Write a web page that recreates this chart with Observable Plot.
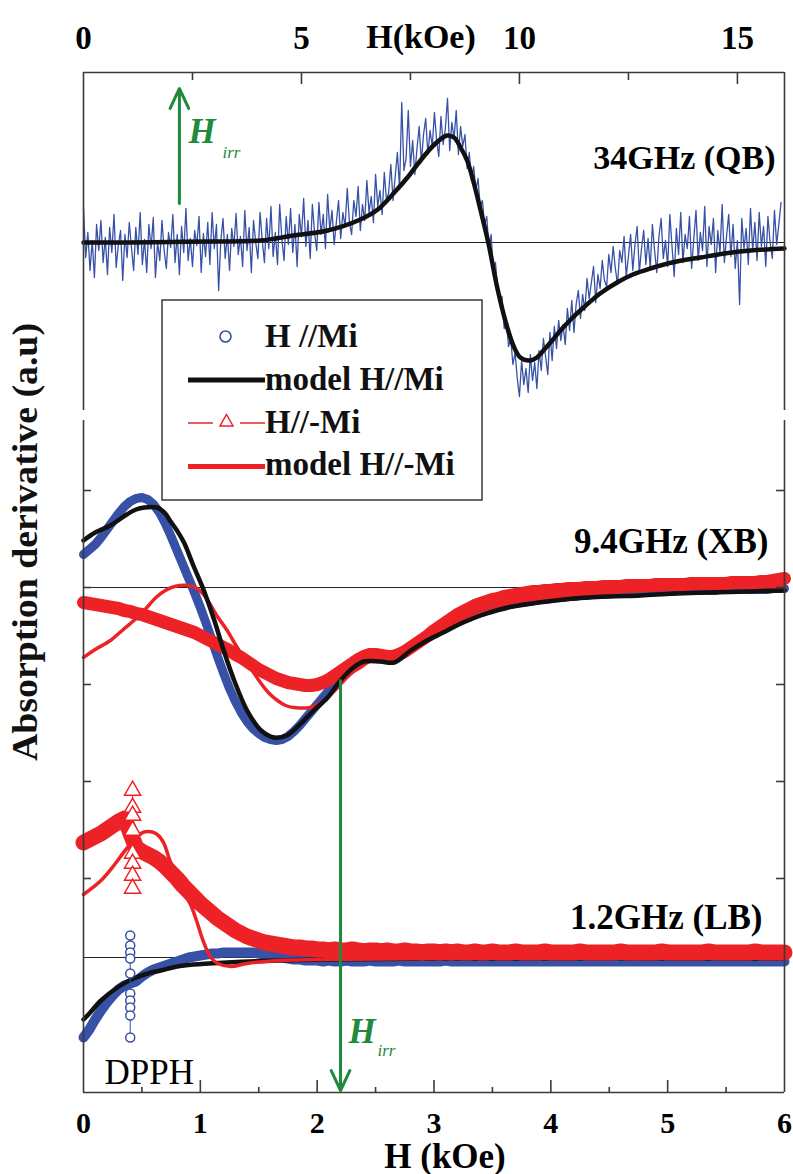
<!DOCTYPE html>
<html><head><meta charset="utf-8">
<script src="https://cdn.jsdelivr.net/npm/d3@7"></script>
<script src="https://cdn.jsdelivr.net/npm/@observablehq/plot@0.6"></script>
<style>
body{margin:0;padding:0;background:#fff;}
#wrap{position:relative;width:793px;height:1174px;overflow:hidden;background:#fff;}
#wrap > svg{position:absolute;left:0;}
</style></head>
<body><div id="wrap"></div>
<script>
// ================= DATA =================
const hirr = 2.2; // kOe, irreversibility field (green arrows)

// ---- 34 GHz (QB) panel : H from 0 to 16 kOe, sampled every 0.05 kOe ----
const qbHStart = 0, qbHStep = 0.05;
const qbSignal = [
 3.5,-1.5,1.0,-2.8,0.2,-3.5,1.8,-0.8,2.2,-2.0,
 0.5,-3.2,1.5,-1.0,2.8,-2.5,-0.2,1.2,-3.8,0.8,
 -1.5,2.0,-0.5,-2.8,1.5,-1.2,3.0,-2.2,0.3,-3.0,
 1.8,-0.6,2.5,-3.5,0.0,-1.8,2.2,-0.8,-2.6,1.0,
 -0.5,2.8,-2.0,0.8,-3.2,1.6,-1.0,3.4,-1.8,0.4,
 -2.4,1.2,-0.3,2.6,-3.0,0.9,-1.4,2.0,-2.2,3.0,
 -0.6,1.8,-4.8,0.2,2.4,-1.6,0.8,-2.8,1.4,-0.4,
 2.9,-1.2,0.6,-2.4,3.2,-0.8,1.5,-3.0,2.2,0.0,
 -1.6,3.0,0.2,-2.0,2.4,-0.6,3.6,-1.4,1.0,-2.2,
 3.8,0.4,-1.8,2.6,-0.2,3.4,-1.0,1.8,-2.4,2.8,
 0.6,4.4,-0.4,2.2,-1.6,3.8,1.0,-0.8,4.0,0.8,
 2.8,-0.6,4.8,1.2,3.2,-0.2,2.0,4.2,0.4,3.0,
 1.6,5.4,2.0,0.8,4.2,2.6,5.6,1.2,3.8,2.2,
 6.2,3.0,4.6,2.0,6.8,3.6,5.2,2.8,7.0,4.2,
 5.0,7.8,4.2,6.6,9.0,5.4,14.0,7.2,8.4,13.2,
 7.6,10.2,6.8,9.4,11.6,8.0,10.8,12.4,8.8,11.2,
 9.6,13.0,10.2,8.6,12.6,9.8,11.4,14.4,9.2,12.0,
 10.4,13.2,8.8,11.6,9.6,10.8,7.4,9.0,6.2,7.6,
 5.2,6.4,3.6,4.2,1.8,2.6,-0.6,0.8,-2.8,-2.0,
 -4.6,-6.2,-5.4,-8.6,-7.8,-10.4,-9.6,-12.2,-11.0,-13.6,
 -15.4,-11.8,-14.2,-12.6,-15.0,-11.2,-13.8,-12.0,-14.6,-10.8,
 -12.8,-9.6,-11.4,-13.2,-9.0,-11.8,-8.4,-10.6,-7.8,-9.8,
 -8.2,-10.2,-6.6,-8.8,-5.8,-9.0,-6.2,-4.8,-7.6,-5.2,
 -6.8,-3.6,-5.6,-4.0,-2.4,-6.0,-3.2,-4.6,-1.8,-3.8,
 -4.4,-1.2,-3.0,-0.4,-2.6,-4.2,-0.8,-2.0,0.6,-3.4,
 -1.4,0.8,-2.8,-0.2,1.6,-3.0,-0.6,1.2,-2.2,0.4,
 -2.6,1.8,-0.8,-3.0,0.6,2.4,-1.6,0.2,-2.4,2.8,
 -0.4,-3.4,1.4,-1.2,3.0,-2.0,0.8,-0.6,2.6,-2.6,
 0.4,3.2,-1.8,1.0,-0.8,3.6,-2.4,1.6,-0.2,2.4,
 -3.0,1.2,-1.0,3.8,-2.0,0.6,2.8,-1.4,1.8,-2.6,
 0.2,-6.2,2.4,-0.6,1.4,-2.2,3.4,-0.8,2.0,-1.8,
 3.0,-0.4,1.6,-2.4,2.6,0.0,-1.6,3.2,-0.2,1.8,
 4.0
];
const qbModelH = [0,1,2,3,4.06,4.82,5.6,6.35,6.75,7.11,7.45,7.73,8.05,8.34,8.5,8.65,8.8,8.95,9.11,9.29,9.49,9.72,9.88,10.02,10.25,10.4,10.55,10.75,10.94,11.2,11.47,11.85,12.24,12.6,13,13.5,14.15,14.7,15.3,16.08];
const qbModelV = [0,0,0.05,0.1,0.2,0.7,1.2,2.3,3.3,4.9,6.6,8.2,9.8,10.7,10.5,9.5,8.2,6.0,3.2,-0.1,-4.5,-8.5,-10.5,-11.5,-11.8,-11.5,-10.8,-9.8,-8.8,-7.6,-6.5,-5.1,-4.0,-3.2,-2.6,-2.0,-1.5,-1.1,-0.8,-0.6];
const qbArrowFrom = 3.9, qbArrowTo = 15.4;

// ---- lower panel (9.4 GHz XB and 1.2 GHz LB), H 0..6 kOe, sampled every 0.05 kOe ----
const lowHStart = 0, lowHStep = 0.05;
const xbBlue = [
 40.3,40.8,41.3,42.0,42.8,43.6,44.4,45.1,45.6,45.9,
 46.0,45.8,45.3,44.5,43.4,42.1,40.7,39.3,37.9,36.5,
 35.0,33.4,31.7,30.0,28.4,26.9,25.6,24.5,23.6,22.9,
 22.4,22.0,21.8,21.7,21.8,22.1,22.6,23.2,23.9,24.6,
 25.3,26.0,26.7,27.4,28.1,28.7,29.2,29.6,29.8,29.9,
 29.9,29.9,29.8,29.8,30.1,30.5,30.9,31.3,31.7,32.0,
 32.4,32.7,33.0,33.3,33.6,33.8,34.0,34.3,34.5,34.7,
 34.8,35.0,35.1,35.3,35.4,35.5,35.6,35.7,35.8,35.8,
 35.9,36.0,36.0,36.1,36.1,36.2,36.2,36.3,36.3,36.3,
 36.4,36.4,36.4,36.5,36.5,36.5,36.5,36.6,36.6,36.6,
 36.6,36.6,36.7,36.7,36.7,36.7,36.7,36.7,36.7,36.8,
 36.8,36.8,36.8,36.8,36.8,36.8,36.8,36.8,36.9,36.9,
 36.9
];
const xbRed = [
 35.5,35.4,35.3,35.2,35.1,35.0,34.9,34.7,34.6,34.4,
 34.3,34.1,33.9,33.7,33.5,33.3,33.1,32.9,32.7,32.5,
 32.2,31.9,31.6,31.3,31.0,30.7,30.3,30.0,29.6,29.2,
 28.8,28.5,28.2,27.9,27.7,27.5,27.4,27.3,27.2,27.2,
 27.3,27.5,27.8,28.2,28.6,29.0,29.4,29.8,30.1,30.3,
 30.3,30.2,30.1,30.1,30.3,30.6,31.0,31.4,31.8,32.2,
 32.7,33.1,33.5,33.9,34.3,34.6,34.9,35.2,35.4,35.6,
 35.8,35.9,36.1,36.2,36.3,36.4,36.5,36.6,36.6,36.7,
 36.7,36.8,36.8,36.9,36.9,36.9,37.0,37.0,37.0,37.1,
 37.1,37.1,37.1,37.2,37.2,37.2,37.2,37.2,37.3,37.3,
 37.3,37.3,37.3,37.3,37.4,37.4,37.4,37.4,37.4,37.4,
 37.4,37.5,37.5,37.5,37.5,37.5,37.6,37.6,37.7,37.8,
 37.9
];
const xbModelH = [0,0.1,0.23,0.37,0.45,0.52,0.63,0.7,0.74,0.8,0.86,0.94,1.03,1.12,1.2,1.29,1.4,1.52,1.63,1.74,1.86,1.97,2.09,2.2,2.31,2.4,2.54,2.66,2.8,2.94,3.08,3.23,3.4,3.63,3.9,4.2,4.5,4.77,5.05,5.34,5.7,6];
const xbModelV = [41.7,42.5,43.2,44.3,44.8,45.0,45.0,44.4,43.7,42.7,41.5,39.2,36.7,33.7,30.7,27.7,24.7,22.7,22.0,22.2,23.4,24.7,26.0,27.7,29.0,29.6,29.6,29.5,30.7,31.7,32.5,33.4,34.2,35.0,35.5,35.9,36.1,36.2,36.4,36.5,36.6,36.7];
const xbRedModelH = [0,0.1,0.23,0.35,0.46,0.55,0.62,0.7,0.78,0.89,0.96,1.02,1.08,1.14,1.23,1.3,1.37,1.45,1.52,1.59,1.66,1.73,1.8,1.94,2.02,2.09,2.16,2.23,2.3,2.37,2.45,2.55,2.66,2.8,3,3.3,3.63,4,4.5,5,5.5,6];
const xbRedModelV = [30.0,30.8,31.7,32.9,34.0,35.1,36.0,36.7,37.1,37.2,37.0,36.4,35.4,34.2,32.7,31.3,30.0,28.6,27.4,26.4,25.7,25.2,25.0,25.0,25.4,26.0,26.8,27.7,28.5,29.0,29.6,29.9,29.9,31.0,32.5,34.0,35.4,36.0,36.5,36.8,37.0,37.1];

const lbRed = [
 11.5,11.8,12.1,12.4,12.8,13.2,13.6,13.9,12.5,11.0,
 10.6,10.3,10.0,9.6,9.1,8.5,7.9,7.2,6.6,6.0,
 5.4,4.9,4.4,3.9,3.5,3.1,2.7,2.4,2.1,1.9,
 1.7,1.5,1.4,1.3,1.2,1.1,1.0,1.0,0.9,0.9,
 0.8,0.8,0.7,0.8,0.7,0.7,0.8,0.7,0.6,0.7,
 0.7,0.6,0.7,0.6,0.6,0.7,0.6,0.6,0.5,0.6,
 0.6,0.5,0.6,0.5,0.6,0.5,0.5,0.6,0.5,0.5,
 0.6,0.5,0.5,0.5,0.6,0.5,0.5,0.5,0.5,0.6,
 0.5,0.5,0.5,0.5,0.5,0.6,0.5,0.5,0.5,0.5,
 0.5,0.5,0.6,0.5,0.5,0.5,0.5,0.5,0.5,0.6,
 0.5,0.5,0.5,0.5,0.5,0.5,0.5,0.6,0.5,0.5,
 0.5,0.5,0.5,0.5,0.5,0.6,0.5,0.5,0.5,0.5,
 0.5
];
const lbBlue = [
 -8.0,-7.2,-6.2,-5.3,-4.5,-3.8,-3.2,-2.8,-2.6,-2.4,
 -1.9,-1.5,-1.2,-1.0,-0.8,-0.6,-0.4,-0.2,0.0,0.1,
 0.2,0.3,0.4,0.4,0.5,0.5,0.5,0.5,0.5,0.5,
 0.4,0.3,0.2,0.1,0.0,-0.1,-0.2,-0.2,-0.3,-0.3,
 -0.3,-0.4,-0.3,-0.4,-0.4,-0.3,-0.4,-0.4,-0.4,-0.3,
 -0.4,-0.4,-0.4,-0.4,-0.3,-0.4,-0.4,-0.4,-0.4,-0.4,
 -0.4,-0.4,-0.3,-0.4,-0.4,-0.4,-0.4,-0.4,-0.4,-0.4,
 -0.4,-0.4,-0.4,-0.4,-0.4,-0.4,-0.4,-0.4,-0.4,-0.4,
 -0.4,-0.4,-0.4,-0.4,-0.4,-0.4,-0.4,-0.4,-0.4,-0.4,
 -0.4,-0.4,-0.4,-0.4,-0.4,-0.4,-0.4,-0.4,-0.4,-0.4,
 -0.4,-0.4,-0.4,-0.4,-0.4,-0.4,-0.4,-0.4,-0.4,-0.4,
 -0.4,-0.4,-0.4,-0.4,-0.4,-0.4,-0.4,-0.4,-0.4,-0.4,
 -0.4
];
const lbModelH = [0,0.05,0.15,0.29,0.43,0.55,0.66,0.8,0.94,1.23,1.66,2.09,3,6];
const lbModelV = [-6.2,-5.6,-4.3,-3.0,-2.1,-1.6,-1.3,-0.9,-0.7,-0.5,-0.3,-0.2,-0.1,-0.1];
const lbRedModelH = [0,0.15,0.26,0.37,0.49,0.55,0.62,0.68,0.74,0.8,0.86,0.92,0.97,1.02,1.09,1.15,1.26,1.4,1.66,2,3,6];
const lbRedModelV = [6.3,7.7,9.2,10.9,12.4,12.6,12.4,11.6,9.7,8.0,6.5,5.2,3.6,1.8,0.0,-0.6,-0.9,-0.6,-0.3,-0.2,-0.1,0.0];

// DPPH marker signal at H = 0.42 kOe (1.2 GHz)
const dpphH = 0.42;
const dpphRed = [16.7,15.0,14.2,12.7,10.4,9.4,8.2,6.9];
const dpphBlue = [2.2,1.2,0.5,-0.1,-1.6,-3.6,-4.3,-5.0,-5.8,-8.0];

const xbBaseline = 37, lbBaseline = 0;
const lowArrowFrom = 27.7, lowArrowTo = -13.3;

// axes
const topTickLabels = [0, 5, 10, 15];
const topMajorTicks = [5, 10, 15];
const topMinorTicks = [2.5, 7.5, 12.5];
const lowTickLabels = [0, 1, 2, 3, 4, 5, 6];
const lowMajorTicks = [1, 2, 3, 4, 5];
const lowMinorTicks = [0.5, 1.5, 2.5, 3.5, 4.5, 5.5];
const lowYTicks = [46.7, 37, 27.3, 17.6, 7.9];

// ================= RENDER =================
const SERIF = "'Liberation Serif'";
const FF = "Liberation Serif";
const BLUE = "#3751a6", RED = "#ec2227", BLACK = "#111", GREEN = "#1f8a3b", FRAME = "#3a3a3a";
const W = 793, ML = 83, MR = 9;
const TOP_H = 412, TOP_MT = 72, TOP_MB = 2;
const LOW_TOP = 412, LOW_H = 762, LOW_MT = 8, LOW_MB = 82;
const topPlotH = TOP_H - TOP_MT - TOP_MB;
const lowPlotH = LOW_H - LOW_MT - LOW_MB;
const plotW = W - ML - MR;
const topXDomain = [0, 16.08], topYDomain = [-16.8, 17];
const lowXDomain = [0, 6], lowYDomain = [-13.5, 53.7];

const grid = (start, step, vals) => vals.map((v, i) => ({h: +(start + i * step).toFixed(3), v}));
const pairs = (hs, vs) => hs.map((h, i) => ({h, v: vs[i]}));
const T = {fontFamily: FF};

const qbRows = grid(qbHStart, qbHStep, qbSignal);
const qbModel = pairs(qbModelH, qbModelV);

const topPlot = Plot.plot({
  width: W, height: TOP_H,
  marginLeft: ML, marginRight: MR, marginTop: TOP_MT, marginBottom: TOP_MB,
  x: {domain: topXDomain}, y: {domain: topYDomain, axis: null},
  style: {fontFamily: SERIF},
  marks: [
    Plot.ruleY([0], {stroke: "#222", strokeWidth: 1}),
    Plot.line(qbRows, {x: "h", y: "v", stroke: BLUE, strokeWidth: 1.3}),
    Plot.line(qbModel, {x: "h", y: "v", stroke: BLACK, strokeWidth: 4.5, curve: "catmull-rom"}),
    Plot.ruleX(topXDomain, {stroke: FRAME, strokeWidth: 1.6}),
    Plot.ruleY([topYDomain[1]], {stroke: FRAME, strokeWidth: 1.6}),
    Plot.tickX(topMajorTicks, {x: d => d, insetBottom: topPlotH - 12, stroke: FRAME, strokeWidth: 1.6}),
    Plot.tickX(topMinorTicks, {x: d => d, insetBottom: topPlotH - 8, stroke: FRAME, strokeWidth: 1.6}),
    Plot.axisX({anchor: "top", ticks: topTickLabels, tickSize: 0, tickPadding: 24, fontSize: 33, fontWeight: "bold", ...T, tickFormat: d => String(d), label: null}),
    Plot.text(["H(kOe)"], {text: d => d, frameAnchor: "top", dx: -13, dy: -25, lineAnchor: "bottom", fontSize: 34, fontWeight: "bold", ...T}),
    Plot.text(["34GHz (QB)"], {text: d => d, frameAnchor: "top-right", textAnchor: "end", dx: -9, dy: 96, lineAnchor: "bottom", fontSize: 34, fontWeight: "bold", ...T}),
    Plot.arrow([{h: hirr, a: qbArrowFrom, b: qbArrowTo}], {x1: "h", x2: "h", y1: "a", y2: "b", stroke: GREEN, strokeWidth: 3, headLength: 11, headAngle: 50}),
    Plot.text([hirr], {x: d => d, text: () => "H", frameAnchor: "top", textAnchor: "start", dx: 9, dy: 70, lineAnchor: "bottom", fontSize: 35, fontStyle: "italic", fontWeight: "bold", fill: GREEN, ...T}),
    Plot.text([hirr], {x: d => d, text: () => "irr", frameAnchor: "top", textAnchor: "start", dx: 43, dy: 85, lineAnchor: "bottom", fontSize: 17, fontStyle: "italic", fontWeight: "normal", fill: GREEN, ...T})
  ]
});
topPlot.style.top = "0px";

const xbBlueRows = grid(lowHStart, lowHStep, xbBlue);
const xbRedRows = grid(lowHStart, lowHStep, xbRed);
const lbRedRows = grid(lowHStart, lowHStep, lbRed);
const lbBlueRows = grid(lowHStart, lowHStep, lbBlue);
const xbModel = pairs(xbModelH, xbModelV);
const xbRedModel = pairs(xbRedModelH, xbRedModelV);
const lbModel = pairs(lbModelH, lbModelV);
const lbRedModel = pairs(lbRedModelH, lbRedModelV);
const dpphRedRows = dpphRed.map(v => ({h: dpphH, v}));
const dpphBlueRows = dpphBlue.map(v => ({h: dpphH - 0.02, v}));

const lowPlot = Plot.plot({
  width: W, height: LOW_H,
  marginLeft: ML, marginRight: MR, marginTop: LOW_MT, marginBottom: LOW_MB,
  x: {domain: lowXDomain}, y: {domain: lowYDomain, axis: null},
  style: {fontFamily: SERIF},
  marks: [
    Plot.ruleY([xbBaseline, lbBaseline], {stroke: "#222", strokeWidth: 1}),
    // 9.4 GHz
    Plot.line(xbBlueRows, {x: "h", y: "v", stroke: BLUE, strokeWidth: 9, strokeLinejoin: "round", strokeLinecap: "round"}),
    Plot.line(xbRedRows, {x: "h", y: "v", stroke: RED, strokeWidth: 13, strokeLinejoin: "round", strokeLinecap: "round"}),
    Plot.line(xbRedModel, {x: "h", y: "v", stroke: RED, strokeWidth: 3.5, curve: "catmull-rom"}),
    Plot.line(xbModel, {x: "h", y: "v", stroke: BLACK, strokeWidth: 4.5, curve: "catmull-rom"}),
    // 1.2 GHz
    Plot.line(lbBlueRows, {x: "h", y: "v", stroke: BLUE, strokeWidth: 10, strokeLinejoin: "round", strokeLinecap: "round"}),
    Plot.line(lbModel, {x: "h", y: "v", stroke: BLACK, strokeWidth: 4.5, curve: "catmull-rom"}),
    Plot.line(lbRedRows, {x: "h", y: "v", stroke: RED, strokeWidth: 16, strokeLinejoin: "round", strokeLinecap: "round"}),
    Plot.line(lbRedModel, {x: "h", y: "v", stroke: RED, strokeWidth: 3.5, curve: "catmull-rom"}),
    Plot.line(dpphRedRows, {x: "h", y: "v", stroke: RED, strokeWidth: 1}),
    Plot.dot(dpphRedRows, {x: "h", y: "v", symbol: "triangle", r: 6, stroke: RED, strokeWidth: 1.5, fill: "white"}),
    Plot.line(dpphBlueRows, {x: "h", y: "v", stroke: BLUE, strokeWidth: 1}),
    Plot.dot(dpphBlueRows, {x: "h", y: "v", r: 4.5, stroke: BLUE, strokeWidth: 1.5, fill: "white"}),
    // frame & ticks
    Plot.ruleX(lowXDomain, {stroke: FRAME, strokeWidth: 1.6}),
    Plot.ruleY([lowYDomain[0]], {stroke: FRAME, strokeWidth: 1.6}),
    Plot.tickX(lowMajorTicks, {x: d => d, insetTop: lowPlotH - 12, stroke: FRAME, strokeWidth: 1.6}),
    Plot.tickX(lowMinorTicks, {x: d => d, insetTop: lowPlotH - 5, stroke: FRAME, strokeWidth: 1.6}),
    Plot.tickY(lowYTicks, {y: d => d, insetRight: plotW - 8, stroke: FRAME, strokeWidth: 1.6}),
    Plot.tickY(lowYTicks, {y: d => d, insetLeft: plotW - 8, stroke: FRAME, strokeWidth: 1.6}),
    Plot.axisX({anchor: "bottom", ticks: lowTickLabels, tickSize: 0, tickPadding: 19, fontSize: 30, fontWeight: "bold", ...T, tickFormat: d => String(d), label: null}),
    Plot.text(["H (kOe)"], {text: d => d, frameAnchor: "bottom", dx: 11, dy: 75, lineAnchor: "bottom", fontSize: 35, fontWeight: "bold", ...T}),
    Plot.text(["9.4GHz (XB)"], {text: d => d, frameAnchor: "top-right", textAnchor: "end", dx: -16, dy: 132, lineAnchor: "bottom", fontSize: 35, fontWeight: "bold", ...T}),
    Plot.text(["1.2GHz (LB)"], {text: d => d, frameAnchor: "top-right", textAnchor: "end", dx: -22, dy: 508, lineAnchor: "bottom", fontSize: 35, fontWeight: "bold", ...T}),
    Plot.text(["DPPH"], {text: d => d, frameAnchor: "bottom-left", textAnchor: "start", dx: 21, dy: -9, lineAnchor: "bottom", fontSize: 35, fontWeight: "normal", ...T}),
    Plot.arrow([{h: hirr, a: lowArrowFrom, b: lowArrowTo}], {x1: "h", x2: "h", y1: "a", y2: "b", stroke: GREEN, strokeWidth: 3, headLength: 11, headAngle: 50}),
    Plot.text([hirr], {x: d => d, text: () => "H", frameAnchor: "bottom", textAnchor: "start", dx: 8, dy: -50, lineAnchor: "bottom", fontSize: 35, fontStyle: "italic", fontWeight: "bold", fill: GREEN, ...T}),
    Plot.text([hirr], {x: d => d, text: () => "irr", frameAnchor: "bottom", textAnchor: "start", dx: 37, dy: -37, lineAnchor: "bottom", fontSize: 17, fontStyle: "italic", fontWeight: "normal", fill: GREEN, ...T})
  ]
});
lowPlot.style.top = LOW_TOP + "px";

const wrap = document.getElementById("wrap");
wrap.appendChild(topPlot);
wrap.appendChild(lowPlot);

// overlay: y-axis title and legend
const legendItems = ["H //Mi", "model H//Mi", "H//-Mi", "model H//-Mi"];
const ns = "http://www.w3.org/2000/svg";
const ov = document.createElementNS(ns, "svg");
ov.setAttribute("width", W); ov.setAttribute("height", 1174);
ov.style.top = "0px"; ov.style.pointerEvents = "none";
ov.innerHTML = `
  <text transform="translate(37,542) rotate(-90)" text-anchor="middle" font-family="Liberation Serif" font-weight="bold" font-size="36" textLength="438" lengthAdjust="spacingAndGlyphs" fill="${BLACK}">Absorption derivative (a.u)</text>
  <g font-family="Liberation Serif" font-weight="bold" font-size="33" fill="${BLACK}">
    <rect x="162" y="300" width="320" height="200" fill="white" stroke="#444" stroke-width="1.6"/>
    <circle cx="225.5" cy="336.5" r="5.5" fill="none" stroke="${BLUE}" stroke-width="1.6"/>
    <text x="265" y="347">${legendItems[0]}</text>
    <line x1="188" x2="265" y1="380" y2="380" stroke="${BLACK}" stroke-width="5"/>
    <text x="265" y="390">${legendItems[1]}</text>
    <line x1="188" x2="213" y1="423" y2="423" stroke="${RED}" stroke-width="1.5"/>
    <line x1="240" x2="265" y1="423" y2="423" stroke="${RED}" stroke-width="1.5"/>
    <path d="M226.5,414.5 L233,426 L220,426 Z" fill="none" stroke="${RED}" stroke-width="1.5"/>
    <text x="265" y="433">${legendItems[2]}</text>
    <line x1="188" x2="265" y1="466.5" y2="466.5" stroke="${RED}" stroke-width="5"/>
    <text x="265" y="475">${legendItems[3]}</text>
  </g>`;
wrap.appendChild(ov);
document.querySelectorAll("#wrap text").forEach(t => t.setAttribute("font-family", FF));
</script>
</body></html>
